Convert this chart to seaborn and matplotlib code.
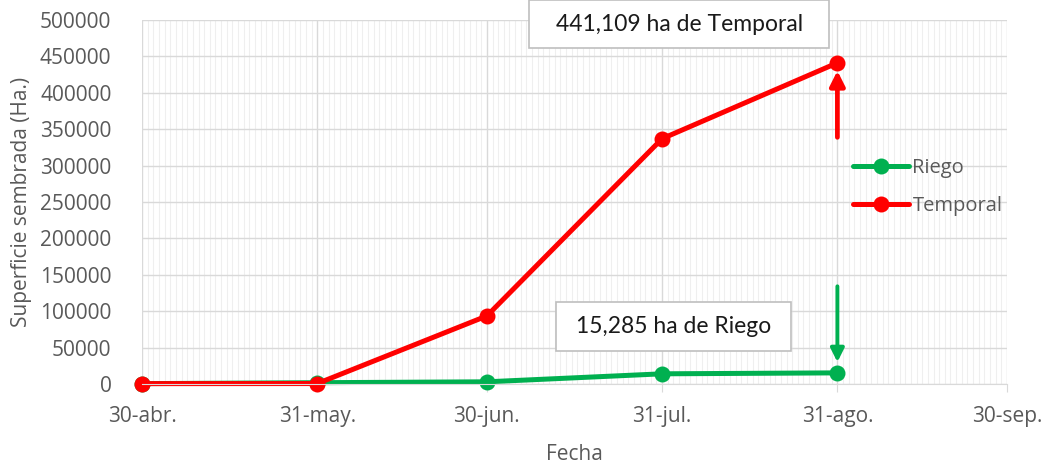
import pandas as pd
import seaborn as sns
import numpy as np
import matplotlib.dates as mdates
from matplotlib.path import Path
from matplotlib import pyplot as plt

# data
fechas = ['2019-04-30', '2019-05-31', '2019-06-30', '2019-07-31', '2019-08-31']
riego = [500, 1800, 3000, 14000, 15285]
temporal = [500, 600, 93500, 337000, 441109]
etiquetas_x = ['30-abr.', '31-may.', '30-jun.', '31-jul.', '31-ago.', '30-sep.']
ticks_x = ['2019-04-30', '2019-05-31', '2019-06-30', '2019-07-31', '2019-08-31', '2019-09-30']

df = pd.DataFrame({'Fecha': pd.to_datetime(fechas), 'Riego': riego, 'Temporal': temporal})
df_long = df.melt(id_vars='Fecha', var_name='Tipo', value_name='Superficie')

sns.set_style('white')
plt.rcParams['font.family'] = ['Open Sans', 'DejaVu Sans']

gris = '#595959'
fig = plt.figure(figsize=(10.47, 4.67), dpi=100)
ax = fig.add_axes([142 / 1047, 1 - 384 / 467, 865 / 1047, 364 / 467])

# gridlines first
ax.set_xlim(pd.Timestamp('2019-04-30'), pd.Timestamp('2019-09-30'))
ax.set_ylim(0, 500000)
ax.xaxis.set_minor_locator(mdates.DayLocator())
ax.set_xticks(pd.to_datetime(ticks_x))
ax.set_xticklabels(etiquetas_x)
ax.set_yticks(np.arange(0, 500001, 50000))
ax.grid(which='minor', axis='x', color='#EFEFEF', lw=0.8)
ax.grid(which='major', axis='both', color='#D9D9D9', lw=1.0)
ax.set_axisbelow(True)

sns.lineplot(data=df_long, x='Fecha', y='Superficie', hue='Tipo',
             palette={'Riego': '#00B050', 'Temporal': '#FF0000'},
             marker='o', markersize=11.5, markeredgewidth=0, linewidth=3.6, ax=ax,
             clip_on=False)

for s in ['top', 'right', 'left']:
    ax.spines[s].set_visible(False)
ax.spines['bottom'].set_color('#D9D9D9')
ax.tick_params(axis='x', which='major', length=6, color='#D9D9D9', labelsize=15,
               labelcolor=gris, pad=10, bottom=True)
ax.tick_params(axis='x', which='minor', length=0)
ax.tick_params(axis='y', length=0, labelsize=15, labelcolor=gris, pad=22)

ax.set_xlabel('Fecha', fontsize=15, color=gris, labelpad=12)
ax.set_ylabel('Superficie sembrada (Ha.)', fontsize=15, color=gris, labelpad=6)


# box with separate horizontal / vertical padding (in units of font size)
def caja_rect(padx, pady):
    def estilo(x0, y0, width, height, mutation_size):
        px, py = padx * mutation_size, pady * mutation_size
        x0, y0 = x0 - px, y0 - py
        x1, y1 = x0 + width + 2 * px, y0 + height + 2 * py
        return Path([(x0, y0), (x1, y0), (x1, y1), (x0, y1), (x0, y0)], closed=True)
    return estilo


# arrows and callouts
x_ago = pd.Timestamp(fechas[-1])
ax.annotate('', xy=(x_ago, temporal[-1] - 7000), xytext=(x_ago, 335000),
            arrowprops=dict(arrowstyle='-|>', color='#FF0000', lw=3.4, mutation_scale=22))
ax.annotate('', xy=(x_ago, riego[-1] + 11000), xytext=(x_ago, 138000),
            arrowprops=dict(arrowstyle='-|>', color='#00B050', lw=2.8, mutation_scale=20))

ax.text(pd.Timestamp('2019-08-03'), 494500, '441,109 ha de Temporal', fontsize=16.5,
        family=['Lato', 'DejaVu Sans'], color='#1a1a1a', ha='center', va='center', clip_on=False,
        bbox=dict(boxstyle=caja_rect(1.15, 0.6), facecolor='white', edgecolor='#BFBFBF', lw=1.2))
ax.text(pd.Timestamp('2019-08-02'), 79000, '15,285 ha de Riego', fontsize=16.5,
        family=['Lato', 'DejaVu Sans'], color='#1a1a1a', ha='center', va='center',
        bbox=dict(boxstyle=caja_rect(0.85, 0.62), facecolor='white', edgecolor='#BFBFBF', lw=1.2))

leg = ax.legend(loc='center left', bbox_to_anchor=(853 / 1047, 1 - 187 / 467),
                bbox_transform=fig.transFigure, frameon=False, fontsize=14.5,
                handlelength=2.8, handletextpad=0.15, labelspacing=0.85,
                borderpad=0, borderaxespad=0)
for t in leg.get_texts():
    t.set_color(gris)

plt.savefig('out.png', dpi=100)
